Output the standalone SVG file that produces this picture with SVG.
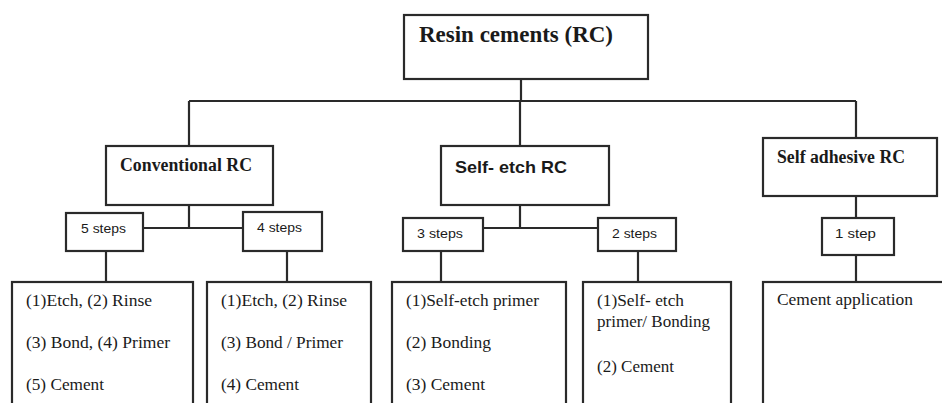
<svg xmlns="http://www.w3.org/2000/svg" width="942" height="403" viewBox="0 0 942 403">
<style>
.box{fill:#fff;stroke:#2a2a2a;stroke-width:2.2}
.ln{fill:none;stroke:#2a2a2a;stroke-width:2.2}
.hs{font-family:"Liberation Serif","Times New Roman",serif;font-weight:bold;fill:#1a1a1a}
.hn{font-family:"Liberation Sans",Arial,sans-serif;font-weight:bold;fill:#1a1a1a}
.st{font-family:"Liberation Sans",Arial,sans-serif;font-size:13px;fill:#1a1a1a}
.tx{font-family:"Liberation Serif","Times New Roman",serif;font-size:16px;fill:#1a1a1a}
</style>
<rect width="942" height="403" fill="#fff"/>
<g id="connectors">
<path class="ln" d="M521 79V101M189 101H856M189 101V146M520 101V146M856 101V138"/>
<path class="ln" d="M189 205V228M143 228H243"/>
<path class="ln" d="M520 205V228M483 228H598"/>
<path class="ln" d="M856 196V218"/>
<path class="ln" d="M106 251V282M287 251V282M441 251V282M638 251V282M856 255V282"/>
</g>
<g id="root"><rect class="box" x="404" y="15" width="244" height="64"/><text class="hs" x="419" y="42" font-size="23" textLength="194" lengthAdjust="spacingAndGlyphs">Resin cements (RC)</text></g>
<g id="conventional"><rect class="box" x="106" y="146" width="167" height="59"/><text class="hs" x="120" y="171" font-size="18" textLength="132" lengthAdjust="spacingAndGlyphs">Conventional RC</text></g>
<g id="selfetch"><rect class="box" x="441" y="146" width="168" height="59"/><text class="hn" x="455" y="173" font-size="17" textLength="112" lengthAdjust="spacingAndGlyphs">Self- etch RC</text></g>
<g id="selfadhesive"><rect class="box" x="763" y="138" width="174" height="58"/><text class="hs" x="777" y="163" font-size="18" textLength="128" lengthAdjust="spacingAndGlyphs">Self adhesive RC</text></g>
<g id="steps5"><rect class="box" x="66" y="213" width="77" height="38"/><text class="st" x="81" y="233" textLength="45" lengthAdjust="spacingAndGlyphs">5 steps</text></g>
<g id="steps4"><rect class="box" x="243" y="212" width="79" height="39"/><text class="st" x="257" y="232" textLength="45" lengthAdjust="spacingAndGlyphs">4 steps</text></g>
<g id="steps3"><rect class="box" x="403" y="218" width="80" height="33"/><text class="st" x="417" y="238" textLength="46" lengthAdjust="spacingAndGlyphs">3 steps</text></g>
<g id="steps2"><rect class="box" x="598" y="218" width="78" height="33"/><text class="st" x="612" y="238" textLength="45" lengthAdjust="spacingAndGlyphs">2 steps</text></g>
<g id="step1"><rect class="box" x="822" y="218" width="72" height="37"/><text class="st" x="835" y="238" textLength="41" lengthAdjust="spacingAndGlyphs">1 step</text></g>
<g id="list5"><rect class="box" x="12" y="282" width="181" height="140"/>
<text class="tx" x="26" y="306" textLength="126" lengthAdjust="spacingAndGlyphs">(1)Etch, (2) Rinse</text>
<text class="tx" x="26" y="348" textLength="144" lengthAdjust="spacingAndGlyphs">(3) Bond, (4) Primer</text>
<text class="tx" x="26" y="390" textLength="78" lengthAdjust="spacingAndGlyphs">(5) Cement</text></g>
<g id="list4"><rect class="box" x="207" y="282" width="164" height="140"/>
<text class="tx" x="221" y="306" textLength="126" lengthAdjust="spacingAndGlyphs">(1)Etch, (2) Rinse</text>
<text class="tx" x="221" y="348" textLength="122" lengthAdjust="spacingAndGlyphs">(3) Bond / Primer</text>
<text class="tx" x="221" y="390" textLength="78" lengthAdjust="spacingAndGlyphs">(4) Cement</text></g>
<g id="list3"><rect class="box" x="392" y="282" width="174" height="140"/>
<text class="tx" x="406" y="306" textLength="133" lengthAdjust="spacingAndGlyphs">(1)Self-etch primer</text>
<text class="tx" x="406" y="348" textLength="85" lengthAdjust="spacingAndGlyphs">(2) Bonding</text>
<text class="tx" x="406" y="390" textLength="79" lengthAdjust="spacingAndGlyphs">(3) Cement</text></g>
<g id="list2"><rect class="box" x="583" y="282" width="148" height="140"/>
<text class="tx" x="597" y="306" textLength="87" lengthAdjust="spacingAndGlyphs">(1)Self- etch</text>
<text class="tx" x="597" y="327" textLength="113" lengthAdjust="spacingAndGlyphs">primer/ Bonding</text>
<text class="tx" x="597" y="372" textLength="77" lengthAdjust="spacingAndGlyphs">(2) Cement</text></g>
<g id="list1"><rect class="box" x="763" y="282" width="200" height="140"/>
<text class="tx" x="777" y="305" textLength="136" lengthAdjust="spacingAndGlyphs">Cement application</text></g>
</svg>
